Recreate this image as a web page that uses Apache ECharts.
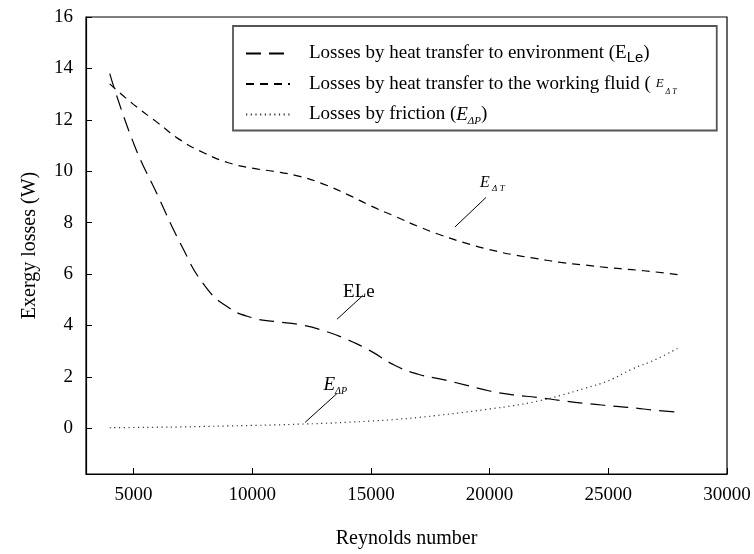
<!DOCTYPE html>
<html>
<head>
<meta charset="utf-8">
<script src="https://cdn.jsdelivr.net/npm/echarts@6/dist/echarts.min.js"></script>
<style>
html,body{margin:0;padding:0;background:#fff;}
#c{width:754px;height:554px;}
</style>
</head>
<body>
<div id="c"></div>
<script>
// ---- data ----
const reynolds = [4000,5000,6000,7000,8000,9000,10000,11000,12000,13000,14000,15000,16000,17000,18000,19000,20000,21000,22000,23000,24000,25000,26000,27000,28000];
const lossEnvironment = [13.8,11.1,9.1,7.15,5.55,4.7,4.3,4.15,4.03,3.8,3.45,3.0,2.45,2.1,1.9,1.68,1.45,1.3,1.2,1.08,0.97,0.88,0.8,0.7,0.62];
const lossFluid = [13.4,12.6,11.9,11.2,10.7,10.33,10.12,9.98,9.8,9.5,9.1,8.65,8.25,7.85,7.5,7.2,6.95,6.75,6.6,6.45,6.35,6.25,6.17,6.08,5.97];
const lossFriction = [0.02,0.03,0.04,0.05,0.07,0.09,0.11,0.13,0.16,0.19,0.23,0.28,0.34,0.42,0.52,0.63,0.75,0.88,1.05,1.28,1.55,1.85,2.3,2.68,3.15];
const xTicks = [5000,10000,15000,20000,25000,30000];
const yTicks = [0,2,4,6,8,10,12,14,16];
const seriesNames = ['env','fluid','friction'];

const FONT = '"Liberation Serif","Times New Roman",serif';
const pairs = v => reynolds.map((x,i)=>[x,v[i]]);

const chart = echarts.init(document.getElementById('c'), null, {renderer:'canvas'});

const LH = 24;
const option = {
  animation:false,
  backgroundColor:'#fff',
  textStyle:{fontFamily:FONT,color:'#000'},
  grid:{left:86,right:27,top:17,bottom:75,show:true,borderColor:'#000',borderWidth:1.2,backgroundColor:'transparent'},
  xAxis:{
    type:'value',min:3000,max:30000,
    name:'Reynolds number',nameLocation:'middle',nameGap:55,
    nameTextStyle:{fontFamily:FONT,fontSize:20,color:'#000'},
    axisLine:{show:true,onZero:false,lineStyle:{color:'#000',width:1.2}},
    axisTick:{show:true,inside:true,length:6,lineStyle:{color:'#000'},customValues:xTicks},
    axisLabel:{fontFamily:FONT,fontSize:19,color:'#000',margin:12,customValues:xTicks,
      formatter:v=>String(v)},
    splitLine:{show:false}
  },
  yAxis:{
    type:'value',min:-1.78,max:16,
    name:'Exergy losses (W)',nameLocation:'middle',nameGap:46,nameRotate:90,
    nameTextStyle:{fontFamily:FONT,fontSize:20,color:'#000'},
    axisLine:{show:true,onZero:false,lineStyle:{color:'#000',width:1.2}},
    axisTick:{show:true,inside:true,length:6,lineStyle:{color:'#000'},customValues:yTicks},
    axisLabel:{fontFamily:FONT,fontSize:19,color:'#000',margin:13,customValues:yTicks,
      formatter:v=>String(v)},
    splitLine:{show:false}
  },
  legend:{
    orient:'vertical',left:233,top:26,
    padding:[18,40,4,12],
    itemWidth:44,itemHeight:12,itemGap:9,
    borderColor:'#555',borderWidth:1.8,
    itemStyle:{opacity:0},
    textStyle:{fontFamily:FONT,fontSize:19,color:'#000',
      rich:{
        f:{fontFamily:FONT,fontSize:19,color:'#000',lineHeight:LH,padding:[0,0,0,14]},
        n:{fontFamily:FONT,fontSize:19,color:'#000',lineHeight:LH},
        le:{fontFamily:'"Liberation Sans",Arial,sans-serif',fontSize:15,color:'#000',lineHeight:14,verticalAlign:'bottom'},
        ei:{fontFamily:FONT,fontSize:13,fontStyle:'italic',color:'#000',lineHeight:LH},
        st:{fontFamily:FONT,fontSize:8,fontStyle:'italic',color:'#000',lineHeight:14,verticalAlign:'bottom'},
        e:{fontFamily:FONT,fontSize:19,fontStyle:'italic',color:'#000',lineHeight:LH},
        sp:{fontFamily:FONT,fontSize:11,fontStyle:'italic',color:'#000',lineHeight:13,verticalAlign:'bottom'}
      }},
    formatter:function(name){
      if(name==='env') return '{f|Losses by heat transfer to environment (E}{le|Le}{n|)}';
      if(name==='fluid') return '{f|Losses by heat transfer to the working fluid ( }{ei|E}{st| Δ T}';
      return '{f|Losses by friction (}{e|E}{sp|ΔP}{n|)}';
    },
    data:seriesNames
  },
  series:[
    {name:'env',type:'line',smooth:0.5,symbol:'none',data:pairs(lossEnvironment),
     itemStyle:{color:'#000'},lineStyle:{color:'#000',width:1.2,type:[15,8]}},
    {name:'fluid',type:'line',smooth:0.5,symbol:'none',data:pairs(lossFluid),
     itemStyle:{color:'#000'},lineStyle:{color:'#000',width:1.2,type:[8,6]}},
    {name:'friction',type:'line',smooth:0.5,symbol:'none',data:pairs(lossFriction),
     itemStyle:{color:'#333'},lineStyle:{color:'#333',width:1.2,type:[1.2,3.5]}}
  ]
};
chart.setOption(option);

// annotations with leader lines, anchored in data coordinates
const P = (x,y)=>chart.convertToPixel({gridIndex:0},[x,y]);
const notes = [
  {from:[19850,8.98],to:[18540,7.83],text:'{e|E}{s| Δ T}',at:[19600,9.55],
   rich:{e:{fontFamily:FONT,fontSize:16,fontStyle:'italic',fill:'#000',lineHeight:20},s:{fontFamily:FONT,fontSize:9,fontStyle:'italic',fill:'#000',lineHeight:12,verticalAlign:'bottom'}}},
  {from:[14670,5.17],to:[13570,4.24],text:'{n|ELe}',at:[13830,5.3],
   rich:{n:{fontFamily:FONT,fontSize:19,fill:'#000'}}},
  {from:[13570,1.35],to:[12230,0.23],text:'{e|E}{s|ΔP}',at:[13000,1.68],
   rich:{e:{fontFamily:FONT,fontSize:19,fontStyle:'italic',fill:'#000',lineHeight:22},s:{fontFamily:FONT,fontSize:10,fontStyle:'italic',fill:'#000',lineHeight:12,verticalAlign:'bottom'}}}
];
const g = [];
notes.forEach(n=>{
  const a=P(n.from[0],n.from[1]), b=P(n.to[0],n.to[1]), t=P(n.at[0],n.at[1]);
  g.push({type:'line',shape:{x1:a[0],y1:a[1],x2:b[0],y2:b[1]},style:{stroke:'#000',lineWidth:1},z:10});
  g.push({type:'text',x:t[0],y:t[1],style:{text:n.text,rich:n.rich,align:'left',verticalAlign:'middle'},z:10});
});
chart.setOption({graphic:g});
</script>
</body>
</html>
